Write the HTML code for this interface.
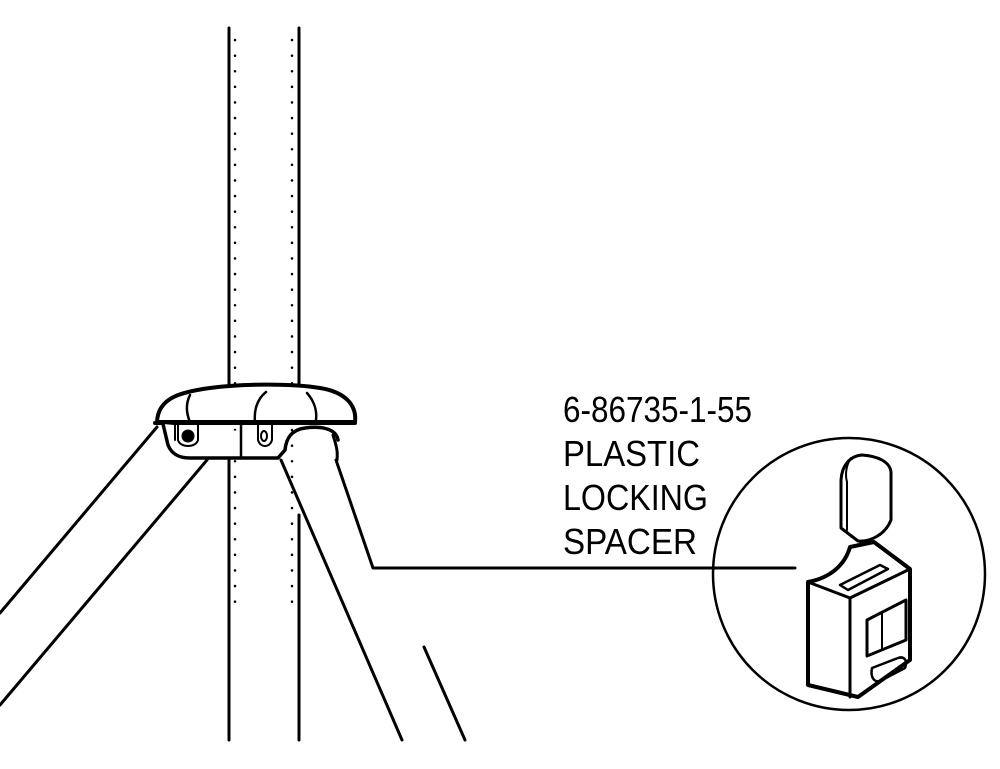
<!DOCTYPE html>
<html><head><style>html,body{margin:0;padding:0;background:#fff}svg{display:block}</style></head>
<body>
<svg width="1000" height="769" viewBox="0 0 1000 769" xmlns="http://www.w3.org/2000/svg" fill="none" stroke="#000" stroke-linecap="round" stroke-linejoin="round">
<line x1="229" y1="28" x2="229" y2="386" stroke-width="3"/>
<line x1="299" y1="28" x2="299" y2="386" stroke-width="3"/>
<line x1="229" y1="460" x2="229" y2="740" stroke-width="3"/>
<line x1="299" y1="515" x2="299" y2="740" stroke-width="3"/>
<line x1="235" y1="40" x2="235" y2="615" stroke-width="2.5" stroke-dasharray="0.1 15.5"/>
<line x1="292" y1="40" x2="292" y2="615" stroke-width="2.5" stroke-dasharray="0.1 15.5"/>
<line x1="157" y1="427" x2="0" y2="613" stroke-width="3"/>
<line x1="207" y1="460" x2="0" y2="705" stroke-width="3"/>
<line x1="281" y1="460" x2="402" y2="740" stroke-width="3"/>
<polyline points="336,460 373,568 795,568" stroke-width="3"/>
<line x1="424" y1="647" x2="465" y2="740" stroke-width="3"/>
<path d="M157,422 C158,398 180,392 210,388 C240,384 290,383 320,388 C345,392 357,405 355,422 Z" fill="#fff" stroke-width="4"/>
<line x1="155" y1="423" x2="355" y2="423" stroke-width="4"/>
<path d="M190,395 C185,405 187,415 190,422" stroke-width="2.5"/>
<path d="M266,392 C256,400 254,412 255,422" stroke-width="2.5"/>
<path d="M307,393 C315,402 317,412 316,420" stroke-width="2.5"/>
<path d="M163,424 L168,445 C172,455 180,458 190,458 L278,458 L285,450 C286,440 290,430 305,428 C320,426 336,428 338,440" fill="#fff" stroke-width="3.5"/>
<line x1="241" y1="423" x2="241" y2="458" stroke-width="2.5"/>
<line x1="175" y1="424" x2="175" y2="440" stroke-width="2"/>
<circle cx="188" cy="436" r="6" fill="#000"/>
<path d="M178,424 L178,440 C180,448 196,448 198,440 L198,424" stroke-width="2"/>
<path d="M258,424 L258,440 C260,448 270,448 272,440 L272,424" stroke-width="2"/>
<ellipse cx="264" cy="436" rx="3" ry="5" stroke-width="2"/>
<path d="M333,435 C336,445 338,450 337,460" stroke-width="3"/>
<circle cx="849" cy="574" r="136" stroke-width="2.5"/>
<path d="M841,480 C842,465 850,456 862,455 C878,456 890,462 891,472 L891,520 C885,535 870,542 858,541 L841,528 Z" fill="#fff" stroke-width="3"/>
<path d="M851,458 C846,465 845,475 847,482 L847,530" stroke-width="2"/>
<line x1="860" y1="542" x2="862" y2="578" stroke-width="1.5"/>
<path d="M808,582 C830,578 845,565 850,547 L874,542 L910,569 L910,660 L858,697 L808,685 Z" fill="#fff" stroke-width="4"/>
<path d="M808,582 L850,598 L910,569" stroke-width="3"/>
<line x1="850" y1="598" x2="850" y2="697" stroke-width="3"/>
<path d="M840,585 L880,565 L888,569 L848,590 Z" stroke-width="2.5"/>
<path d="M867,620 L906,600 L906,640 L867,656 Z" stroke-width="3"/>
<path d="M882,613 L882,650" stroke-width="2"/>
<path d="M872,668 C870,678 875,684 882,680 L905,668 C908,660 904,656 898,658 Z" stroke-width="2.5"/>
<g fill="#000" stroke="none" font-family="'Liberation Sans', Arial, sans-serif" font-size="36">
<text x="563" y="422" textLength="189" lengthAdjust="spacingAndGlyphs">6-86735-1-55</text>
<text x="563" y="466" textLength="137" lengthAdjust="spacingAndGlyphs">PLASTIC</text>
<text x="563" y="510" textLength="145" lengthAdjust="spacingAndGlyphs">LOCKING</text>
<text x="563" y="554" textLength="134" lengthAdjust="spacingAndGlyphs">SPACER</text>
</g>
</svg>
</body></html>
